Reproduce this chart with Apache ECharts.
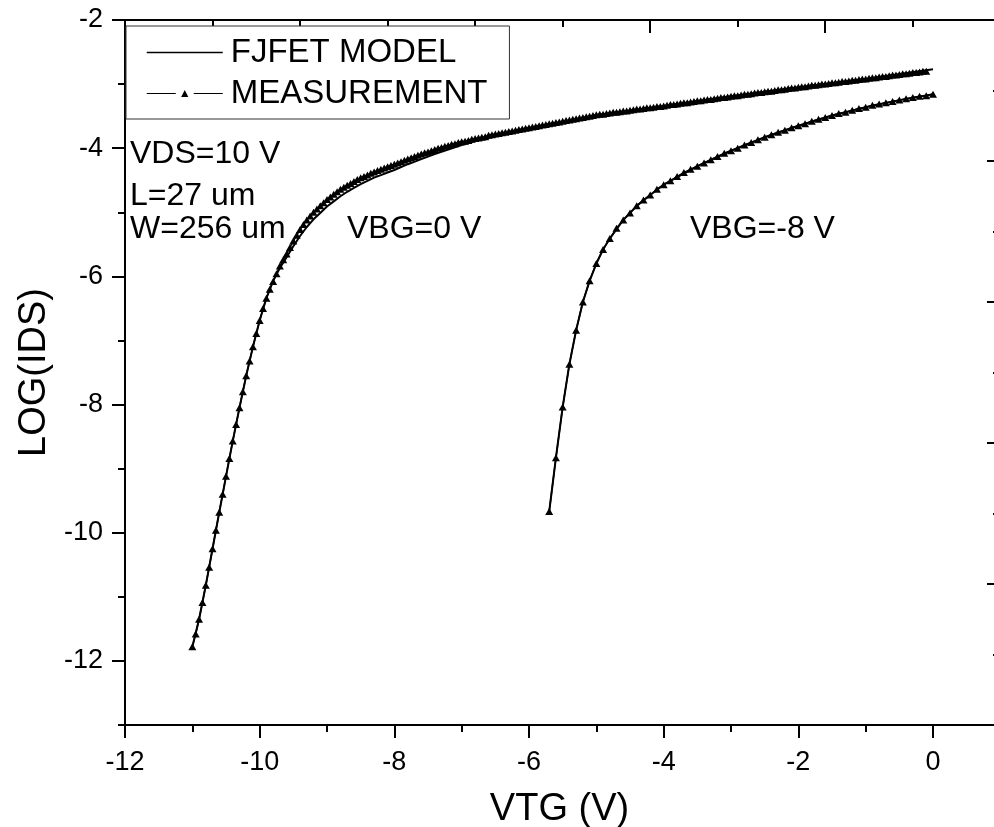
<!DOCTYPE html>
<html>
<head>
<meta charset="utf-8">
<title>FJFET transfer characteristics</title>
<script src="https://cdn.jsdelivr.net/npm/echarts@6/dist/echarts.min.js"></script>
<style>
  html, body { margin: 0; padding: 0; background: #fff; }
  #chart { width: 994px; height: 827px; }
</style>
</head>
<body>
<div id="chart"></div>
<script>
// Gate sweep, measured data, VBG = 0 V (0.05 V steps)
const vtgMeas0 = [
  -11.00,-10.95,-10.90,-10.85,-10.80,-10.75,-10.70,-10.65,-10.60,-10.55,
  -10.50,-10.45,-10.40,-10.35,-10.30,-10.25,-10.20,-10.15,-10.10,-10.05,
  -10.00,-9.95,-9.90,-9.85,-9.80,-9.75,-9.70,-9.65,-9.60,-9.55,
  -9.50,-9.45,-9.40,-9.35,-9.30,-9.25,-9.20,-9.15,-9.10,-9.05,
  -9.00,-8.95,-8.90,-8.85,-8.80,-8.75,-8.70,-8.65,-8.60,-8.55,
  -8.50,-8.45,-8.40,-8.35,-8.30,-8.25,-8.20,-8.15,-8.10,-8.05,
  -8.00,-7.95,-7.90,-7.85,-7.80,-7.75,-7.70,-7.65,-7.60,-7.55,
  -7.50,-7.45,-7.40,-7.35,-7.30,-7.25,-7.20,-7.15,-7.10,-7.05,
  -7.00,-6.95,-6.90,-6.85,-6.80,-6.75,-6.70,-6.65,-6.60,-6.55,
  -6.50,-6.45,-6.40,-6.35,-6.30,-6.25,-6.20,-6.15,-6.10,-6.05,
  -6.00,-5.95,-5.90,-5.85,-5.80,-5.75,-5.70,-5.65,-5.60,-5.55,
  -5.50,-5.45,-5.40,-5.35,-5.30,-5.25,-5.20,-5.15,-5.10,-5.05,
  -5.00,-4.95,-4.90,-4.85,-4.80,-4.75,-4.70,-4.65,-4.60,-4.55,
  -4.50,-4.45,-4.40,-4.35,-4.30,-4.25,-4.20,-4.15,-4.10,-4.05,
  -4.00,-3.95,-3.90,-3.85,-3.80,-3.75,-3.70,-3.65,-3.60,-3.55,
  -3.50,-3.45,-3.40,-3.35,-3.30,-3.25,-3.20,-3.15,-3.10,-3.05,
  -3.00,-2.95,-2.90,-2.85,-2.80,-2.75,-2.70,-2.65,-2.60,-2.55,
  -2.50,-2.45,-2.40,-2.35,-2.30,-2.25,-2.20,-2.15,-2.10,-2.05,
  -2.00,-1.95,-1.90,-1.85,-1.80,-1.75,-1.70,-1.65,-1.60,-1.55,
  -1.50,-1.45,-1.40,-1.35,-1.30,-1.25,-1.20,-1.15,-1.10,-1.05,
  -1.00,-0.95,-0.90,-0.85,-0.80,-0.75,-0.70,-0.65,-0.60,-0.55,
  -0.50,-0.45,-0.40,-0.35,-0.30,-0.25,-0.20,-0.15,-0.10
];
const logIdsMeas0 = [
  -11.78,-11.58,-11.35,-11.09,-10.82,-10.54,-10.25,-9.96,-9.68,-9.40,
  -9.12,-8.84,-8.57,-8.31,-8.05,-7.80,-7.55,-7.32,-7.10,-6.89,
  -6.69,-6.50,-6.34,-6.20,-6.08,-5.96,-5.84,-5.74,-5.65,-5.55,
  -5.45,-5.36,-5.27,-5.19,-5.12,-5.06,-5.00,-4.95,-4.90,-4.85,
  -4.80,-4.76,-4.72,-4.68,-4.64,-4.61,-4.58,-4.55,-4.52,-4.49,
  -4.46,-4.44,-4.42,-4.39,-4.37,-4.35,-4.33,-4.31,-4.29,-4.27,
  -4.25,-4.23,-4.21,-4.19,-4.17,-4.15,-4.13,-4.11,-4.09,-4.07,
  -4.06,-4.04,-4.02,-4.00,-3.99,-3.97,-3.96,-3.94,-3.93,-3.91,
  -3.90,-3.89,-3.88,-3.86,-3.85,-3.84,-3.83,-3.82,-3.80,-3.79,
  -3.78,-3.77,-3.76,-3.75,-3.74,-3.73,-3.72,-3.71,-3.70,-3.69,
  -3.68,-3.67,-3.66,-3.65,-3.64,-3.63,-3.62,-3.61,-3.60,-3.59,
  -3.58,-3.57,-3.56,-3.55,-3.54,-3.53,-3.52,-3.51,-3.50,-3.49,
  -3.48,-3.47,-3.47,-3.46,-3.45,-3.44,-3.44,-3.43,-3.42,-3.42,
  -3.41,-3.40,-3.39,-3.39,-3.38,-3.37,-3.37,-3.36,-3.35,-3.35,
  -3.34,-3.33,-3.32,-3.32,-3.31,-3.30,-3.29,-3.29,-3.28,-3.27,
  -3.26,-3.26,-3.25,-3.24,-3.24,-3.23,-3.22,-3.21,-3.21,-3.20,
  -3.19,-3.18,-3.18,-3.17,-3.16,-3.16,-3.15,-3.14,-3.13,-3.13,
  -3.12,-3.11,-3.11,-3.10,-3.09,-3.09,-3.08,-3.07,-3.06,-3.06,
  -3.05,-3.04,-3.04,-3.03,-3.02,-3.02,-3.01,-3.00,-3.00,-2.99,
  -2.98,-2.98,-2.97,-2.96,-2.96,-2.95,-2.94,-2.94,-2.93,-2.92,
  -2.92,-2.91,-2.90,-2.90,-2.89,-2.88,-2.88,-2.87,-2.86,-2.86,
  -2.85,-2.84,-2.84,-2.83,-2.82,-2.82,-2.81,-2.80,-2.80
];

// Measured data, VBG = -8 V (0.1 V steps)
const vtgMeas8 = [
  -5.7,-5.6,-5.5,-5.4,-5.3,-5.2,-5.1,-5.0,-4.9,-4.8,
  -4.7,-4.6,-4.5,-4.4,-4.3,-4.2,-4.1,-4.0,-3.9,-3.8,
  -3.7,-3.6,-3.5,-3.4,-3.3,-3.2,-3.1,-3.0,-2.9,-2.8,
  -2.7,-2.6,-2.5,-2.4,-2.3,-2.2,-2.1,-2.0,-1.9,-1.8,
  -1.7,-1.6,-1.5,-1.4,-1.3,-1.2,-1.1,-1.0,-0.9,-0.8,
  -0.7,-0.6,-0.5,-0.4,-0.3,-0.2,-0.1,0.0
];
const logIdsMeas8 = [
  -9.67,-8.83,-8.04,-7.37,-6.84,-6.40,-6.07,-5.80,-5.58,-5.41,
  -5.25,-5.12,-5.01,-4.90,-4.81,-4.73,-4.64,-4.57,-4.51,-4.44,
  -4.38,-4.33,-4.28,-4.23,-4.18,-4.13,-4.08,-4.04,-4.00,-3.95,
  -3.91,-3.87,-3.83,-3.79,-3.75,-3.72,-3.68,-3.65,-3.62,-3.58,
  -3.55,-3.52,-3.49,-3.46,-3.44,-3.41,-3.38,-3.36,-3.33,-3.31,
  -3.29,-3.27,-3.25,-3.23,-3.21,-3.19,-3.18,-3.16
];

// FJFET model curves
const vtgModel0 = [
  -11.0,-10.9,-10.8,-10.7,-10.6,-10.5,-10.4,-10.3,-10.2,-10.1,
  -10.0,-9.9,-9.8,-9.7,-9.6,-9.5,-9.4,-9.3,-9.2,-9.1,
  -9.0,-8.9,-8.8,-8.7,-8.6,-8.5,-8.4,-8.3,-8.2,-8.1,
  -8.0,-7.8,-7.6,-7.4,-7.2,-7.0,-6.8,-6.6,-6.4,-6.2,
  -6.0,-5.5,-5.0,-4.0,-3.0,-2.0,-1.0,0.0
];
const logIdsModel0 = [
  -11.78,-11.35,-10.82,-10.25,-9.68,-9.12,-8.57,-8.05,-7.55,-7.10,
  -6.69,-6.34,-6.07,-5.87,-5.70,-5.53,-5.37,-5.23,-5.11,-5.01,
  -4.91,-4.83,-4.75,-4.68,-4.62,-4.56,-4.51,-4.46,-4.42,-4.38,
  -4.34,-4.25,-4.17,-4.09,-4.02,-3.95,-3.89,-3.84,-3.79,-3.74,
  -3.70,-3.59,-3.49,-3.34,-3.19,-3.05,-2.92,-2.77
];
const vtgModel8 = [
  -5.7,-5.6,-5.5,-5.4,-5.3,-5.2,-5.1,-5.0,-4.9,-4.8,
  -4.6,-4.4,-4.2,-4.0,-3.5,-3.0,-2.5,-2.0,-1.5,-1.0,-0.5,0.0
];
const logIdsModel8 = [
  -9.67,-8.83,-8.04,-7.37,-6.84,-6.40,-6.07,-5.80,-5.58,-5.41,
  -5.12,-4.90,-4.73,-4.57,-4.28,-4.04,-3.83,-3.65,-3.49,-3.36,-3.25,-3.16
];

// Axis ticks and labels
const xMajorTicks = [-12, -10, -8, -6, -4, -2, 0];
const xMinorTicks = [-11, -9, -7, -5, -3, -1];
const yMajorTicks = [-12, -10, -8, -6, -4, -2];
const yMinorTicks = [-13, -11, -9, -7, -5, -3];
// Opposite frame axes (unlabelled 0..10 scales)
const frameMajorTicks = [0, 2, 4, 6, 8, 10];
const frameMinorTicks = [1, 3, 5, 7, 9];

const zip = (xs, ys) => xs.map((x, i) => [x, ys[i]]);

const FONT = '"Liberation Sans", Arial, Helvetica, sans-serif';
const INK = '#000';

// Visible plot extents: the frame runs slightly past the right edge of the canvas
const X_MIN = -12, X_MAX = 0.906;
const TOP_MAX = 9.93;
const Y_MIN = -13, Y_MAX = -2;

const chart = echarts.init(document.getElementById('chart'), null, { renderer: 'canvas' });

const gridRect = { left: 125, top: 20, right: 0, bottom: 102, containLabel: false, outerBoundsMode: 'none' };
const tickLine = { color: INK, width: 2 };
const axisLine = { show: true, onZero: false, lineStyle: { color: INK, width: 2 } };

function tickAxis(extra) {
  return Object.assign({
    type: 'value',
    axisLine: { show: false, onZero: false },
    axisLabel: { show: false },
    splitLine: { show: false }
  }, extra);
}

chart.setOption({
  animation: false,
  backgroundColor: '#fff',
  grid: [gridRect, gridRect, gridRect, gridRect],
  legend: {
    left: 126,
    top: 26,
    orient: 'vertical',
    padding: [10, 22, 9, 20],
    itemGap: 8,
    itemWidth: 76,
    itemHeight: 9,
    backgroundColor: '#fff',
    borderColor: '#333',
    borderWidth: 1,
    borderRadius: 0,
    selectedMode: false,
    textStyle: { fontFamily: FONT, fontSize: 33, color: INK, lineHeight: 32, padding: [0, 0, 0, 3] },
    data: [
      { name: 'FJFET MODEL', itemStyle: { opacity: 0 }, lineStyle: { width: 1.5, color: INK } },
      { name: 'MEASUREMENT', itemStyle: { color: INK }, lineStyle: { width: 1, color: INK, type: [29, 18, 29] } }
    ]
  },
  xAxis: [
    {
      type: 'value', gridIndex: 0, position: 'bottom', min: X_MIN, max: X_MAX,
      axisLine: axisLine,
      axisTick: { show: true, customValues: xMajorTicks, length: 13, lineStyle: tickLine },
      axisLabel: { show: true, customValues: xMajorTicks, margin: 24, color: INK, fontFamily: FONT, fontSize: 27 },
      splitLine: { show: false },
      name: 'VTG (V)', nameLocation: 'middle', nameGap: 66,
      nameTextStyle: { fontFamily: FONT, fontSize: 38, color: INK }
    },
    tickAxis({
      gridIndex: 1, position: 'bottom', min: X_MIN, max: X_MAX,
      axisTick: { show: true, customValues: xMinorTicks, length: 7, lineStyle: tickLine }
    }),
    tickAxis({
      gridIndex: 2, position: 'top', min: 0, max: TOP_MAX,
      axisLine: axisLine,
      axisTick: { show: true, inside: true, customValues: frameMajorTicks, length: 13, lineStyle: tickLine }
    }),
    tickAxis({
      gridIndex: 3, position: 'top', min: 0, max: TOP_MAX,
      axisTick: { show: true, inside: true, customValues: frameMinorTicks, length: 7, lineStyle: tickLine }
    })
  ],
  yAxis: [
    {
      type: 'value', gridIndex: 0, position: 'left', min: Y_MIN, max: Y_MAX,
      axisLine: axisLine,
      axisTick: { show: true, customValues: yMajorTicks, length: 13, lineStyle: tickLine },
      axisLabel: { show: true, customValues: yMajorTicks, margin: 22, color: INK, fontFamily: FONT, fontSize: 27 },
      splitLine: { show: false },
      name: 'LOG(IDS)', nameLocation: 'middle', nameGap: 61,
      nameTextStyle: { fontFamily: FONT, fontSize: 38, color: INK }
    },
    tickAxis({
      gridIndex: 1, position: 'left', min: Y_MIN, max: Y_MAX,
      axisTick: { show: true, customValues: yMinorTicks, length: 7, lineStyle: tickLine }
    }),
    tickAxis({
      gridIndex: 2, position: 'right', offset: 6, min: 0, max: 10,
      axisTick: { show: true, inside: true, customValues: frameMajorTicks, length: 13, lineStyle: tickLine }
    }),
    tickAxis({
      gridIndex: 3, position: 'right', offset: 6, min: 0, max: 10,
      axisTick: { show: true, inside: true, customValues: frameMinorTicks, length: 7, lineStyle: tickLine }
    })
  ],
  series: [
    {
      name: 'FJFET MODEL', type: 'line', xAxisIndex: 0, yAxisIndex: 0,
      data: zip(vtgModel0, logIdsModel0), showSymbol: false, symbol: 'none',
      lineStyle: { color: INK, width: 2 }, itemStyle: { color: INK }, z: 3
    },
    {
      name: 'FJFET MODEL', type: 'line', xAxisIndex: 0, yAxisIndex: 0,
      data: zip(vtgModel8, logIdsModel8), showSymbol: false, symbol: 'none',
      lineStyle: { color: INK, width: 2 }, itemStyle: { color: INK }, z: 3
    },
    {
      name: 'MEASUREMENT', type: 'line', xAxisIndex: 0, yAxisIndex: 0,
      data: zip(vtgMeas0, logIdsMeas0), symbol: 'triangle', symbolSize: [8, 7],
      showAllSymbol: true,
      lineStyle: { color: INK, width: 1.5 }, itemStyle: { color: INK }, z: 2
    },
    {
      name: 'MEASUREMENT', type: 'line', xAxisIndex: 0, yAxisIndex: 0,
      data: zip(vtgMeas8, logIdsMeas8), symbol: 'triangle', symbolSize: [8, 7],
      showAllSymbol: true,
      lineStyle: { color: INK, width: 1.5 }, itemStyle: { color: INK }, z: 2
    }
  ],
  graphic: [
    { type: 'text', left: 130, top: 138, z: 10, style: { text: 'VDS=10 V', font: '32px ' + FONT, fill: INK } },
    { type: 'text', left: 130, top: 180, z: 10, style: { text: 'L=27 um', font: '32px ' + FONT, fill: INK } },
    { type: 'text', left: 130, top: 213, z: 10, style: { text: 'W=256 um', font: '32px ' + FONT, fill: INK } },
    { type: 'text', left: 347, top: 213, z: 10, style: { text: 'VBG=0 V', font: '32px ' + FONT, fill: INK } },
    { type: 'text', left: 690, top: 213, z: 10, style: { text: 'VBG=-8 V', font: '32px ' + FONT, fill: INK } }
  ]
});
</script>
</body>
</html>
